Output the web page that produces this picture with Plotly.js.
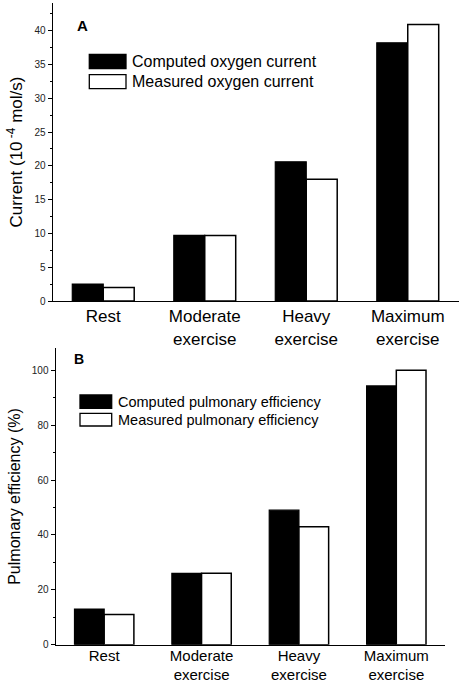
<!DOCTYPE html>
<html><head><meta charset="utf-8">
<script src="https://cdn.plot.ly/plotly-3.0.1.min.js"></script>
<style>html,body{margin:0;padding:0;background:#fff;}#chart{width:463px;height:686px;}</style>
</head><body><div id="chart"></div>
<script>
const categories = ["Rest", "Moderate<br>exercise", "Heavy<br>exercise", "Maximum<br>exercise"];
const computedCurrent = [2.5, 9.7, 20.6, 38.2];
const measuredCurrent = [2.0, 9.7, 18.0, 40.9];
const computedEfficiency = [13, 26, 49, 94.3];
const measuredEfficiency = [11, 26, 43, 100];
const legendA = ["Computed oxygen current", "Measured oxygen current"];
const legendB = ["Computed pulmonary efficiency", "Measured pulmonary efficiency"];

const W = 463, H = 686;
const px = v => v / W;
const py = v => 1 - v / H;
const FONT = "Arial, 'Liberation Sans', sans-serif";

const traces = [
  {type:'bar', x:categories, y:computedCurrent, name:legendA[0], xaxis:'x', yaxis:'y',
   marker:{color:'#000', line:{color:'#000', width:1.2}}},
  {type:'bar', x:categories, y:measuredCurrent, name:legendA[1], xaxis:'x', yaxis:'y',
   marker:{color:'#fff', line:{color:'#000', width:1.5}}},
  {type:'bar', x:categories, y:computedEfficiency, name:legendB[0], xaxis:'x2', yaxis:'y2',
   marker:{color:'#000', line:{color:'#000', width:1.2}}},
  {type:'bar', x:categories, y:measuredEfficiency, name:legendB[1], xaxis:'x2', yaxis:'y2',
   marker:{color:'#fff', line:{color:'#000', width:1.5}}}
];

const xCommon = {type:'category', range:[-0.5, 3.5], showline:true, linecolor:'#000', linewidth:1,
  ticks:'', showgrid:false, zeroline:false, tickfont:{family:FONT, color:'#000'}, fixedrange:true};
const yCommon = {showline:true, linecolor:'#000', linewidth:1, ticks:'outside', ticklen:4, tickwidth:1,
  tickcolor:'#000', showgrid:false, zeroline:false, tickfont:{family:FONT, size:10, color:'#222'}, fixedrange:true};

function legendShapes(x0, x1, rows) {
  return rows.map((r, i) => ({type:'rect', xref:'paper', yref:'paper',
    x0:px(x0), x1:px(x1), y0:py(r[1]), y1:py(r[0]),
    fillcolor: i === 0 ? '#000' : '#fff', line:{color:'#000', width:1.3}}));
}

const layout = {
  width:W, height:H, margin:{l:0, r:0, t:0, b:0},
  paper_bgcolor:'#fff', plot_bgcolor:'rgba(0,0,0,0)',
  showlegend:false, barmode:'group', bargap:0.39, bargroupgap:0,
  font:{family:FONT, color:'#000'},
  xaxis: Object.assign({}, xCommon, {domain:[px(52.5), px(458.5)], anchor:'y', tickfont:{family:FONT, size:17, color:'#000'}}),
  yaxis: Object.assign({}, yCommon, {domain:[py(301), py(3)], anchor:'x', range:[0, 44.1], dtick:5,
    minor:{dtick:2.5, ticks:'outside', ticklen:2, tickcolor:'#000'},
    title:{text:'Current (10<sup> -4</sup> mol/s)', font:{family:FONT, size:17, color:'#000'}, standoff:7}}),
  xaxis2: Object.assign({}, xCommon, {domain:[px(55.5), px(445)], anchor:'y2', ticklabelstandoff:-3, tickfont:{family:FONT, size:15, color:'#000'}}),
  yaxis2: Object.assign({}, yCommon, {domain:[py(644.7), py(348.3)], anchor:'x2', range:[0, 108], dtick:20,
    minor:{dtick:10, ticks:'outside', ticklen:2, tickcolor:'#000'},
    title:{text:'Pulmonary efficiency (%)', font:{family:FONT, size:16, color:'#000'}, standoff:7}}),
  shapes: legendShapes(89.3, 126, [[54.5, 68.5],[74.7, 88.7]]).concat(
          legendShapes(80, 111.7, [[395, 408.3],[413.3, 426]])),
  annotations: [
    {text:'<b>A</b>', xref:'paper', yref:'paper', x:px(75), y:py(15), showarrow:false, font:{family:FONT, size:15, color:'#000'}},
    {text:'<b>B</b>', xref:'paper', yref:'paper', x:px(71.7), y:py(358.5), showarrow:false, font:{family:FONT, size:14, color:'#000'}},
    {text:legendA[0], xref:'paper', yref:'paper', x:px(129.5), y:py(62), xanchor:'left', yanchor:'middle', showarrow:false, font:{family:FONT, size:16, color:'#000'}},
    {text:legendA[1], xref:'paper', yref:'paper', x:px(129.5), y:py(81.7), xanchor:'left', yanchor:'middle', showarrow:false, font:{family:FONT, size:16, color:'#000'}},
    {text:legendB[0], xref:'paper', yref:'paper', x:px(115.5), y:py(402), xanchor:'left', yanchor:'middle', showarrow:false, font:{family:FONT, size:14.5, color:'#000'}},
    {text:legendB[1], xref:'paper', yref:'paper', x:px(115.5), y:py(420), xanchor:'left', yanchor:'middle', showarrow:false, font:{family:FONT, size:14.5, color:'#000'}}
  ]
};

Plotly.newPlot('chart', traces, layout, {displayModeBar:false, staticPlot:true});
</script>
</body></html>
